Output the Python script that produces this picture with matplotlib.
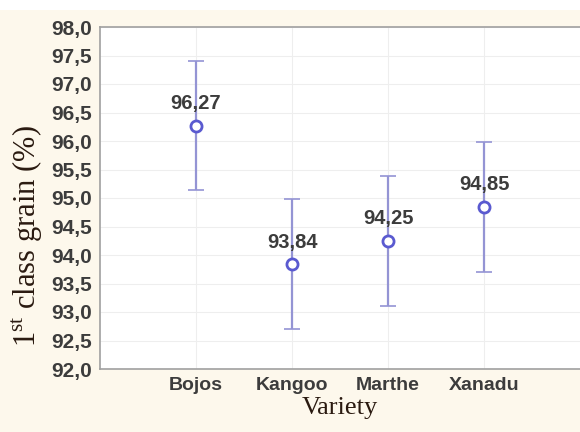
import matplotlib.pyplot as plt
from matplotlib.patches import Rectangle
import numpy as np

# data
varieties = ['Bojos', 'Kangoo', 'Marthe', 'Xanadu']
means = [96.27, 93.84, 94.25, 94.85]
err_low = [1.13, 1.14, 1.14, 1.14]
err_high = [1.13, 1.14, 1.14, 1.14]
yticks = np.arange(92.0, 98.01, 0.5)

plt.rcParams['mathtext.fontset'] = 'custom'
plt.rcParams['mathtext.rm'] = 'Liberation Serif'

fig = plt.figure(figsize=(5.8, 4.32), dpi=100, facecolor='#fdf8ec')
# white strip along the very top of the picture
fig.patches.append(Rectangle((0, 1 - 10 / 432), 1, 10 / 432, transform=fig.transFigure,
                             facecolor='white', edgecolor='none', zorder=0))
ax = fig.add_axes([100 / 580, 63 / 432, 480 / 580, 342 / 432])
ax.set_facecolor('white')

x = np.arange(1, len(varieties) + 1)
txt_color = '#3c3c3c'

# faint grid
for yt in yticks:
    ax.axhline(yt, color='#eeeeee', lw=0.8, zorder=0)
for xi in x:
    ax.axvline(xi, color='#eeeeee', lw=0.8, zorder=0)

ax.errorbar(x, means, yerr=[err_low, err_high], fmt='none', ecolor='#9494d4',
            elinewidth=1.6, capsize=6, capthick=1.2, zorder=2)
ax.plot(x, means, 'o', ms=8, mfc='white', mec='#5a5ad0', mew=2, zorder=3)

for xi, m in zip(x, means):
    ax.annotate(f'{m:.2f}'.replace('.', ','), (xi, m), xytext=(0, 9),
                textcoords='offset points', ha='center', va='bottom',
                fontsize=14.5, family='Liberation Sans', fontweight='bold', color=txt_color)

ax.set_xlim(0, 5)
ax.set_ylim(92.0, 98.0)
ax.set_yticks(yticks)
ax.set_yticklabels([f'{v:.1f}'.replace('.', ',') for v in yticks],
                   family='Liberation Sans', fontsize=15, fontweight='bold', color=txt_color)
ax.set_xticks(x)
ax.set_xticklabels(varieties, family='Liberation Sans', fontsize=14, fontweight='bold',
                   color=txt_color)
ax.tick_params(axis='both', length=0, pad=6)

for side in ['left', 'bottom', 'top']:
    ax.spines[side].set_color('#a0a0a0')
    ax.spines[side].set_linewidth(1.2)
ax.spines['right'].set_visible(False)

ax.set_xlabel('Variety', family='Liberation Serif', fontsize=19, color='#2a1a10', labelpad=2)
fig.text(27 / 580, 1 - 236 / 432, r'1$^{\mathrm{st}}$ class grain (%)', rotation=90,
         ha='center', va='center', family='Liberation Serif', fontsize=22, color='#2a1a10')

fig.savefig('out.png', dpi=100, facecolor=fig.get_facecolor())
